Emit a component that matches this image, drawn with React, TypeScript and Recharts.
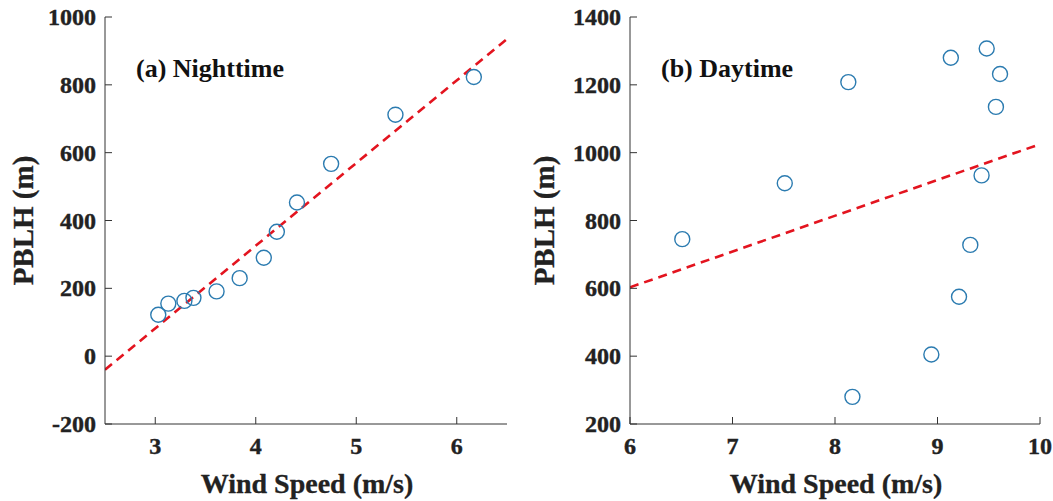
import { ScatterChart, Scatter, XAxis, YAxis, ReferenceLine } from "recharts";

// (a) Nighttime
const nightSpeed = [3.03, 3.13, 3.29, 3.38, 3.61, 3.84, 4.08, 4.21, 4.41, 4.75, 5.39, 6.17];
const nightPblh = [122, 155, 163, 172, 191, 230, 290, 367, 453, 567, 712, 823];
const nightFit = [
    { x: 2.5, y: -40 },
    { x: 6.5, y: 935 },
];
const nightXTicks = [3, 4, 5, 6];
const nightYTicks = [-200, 0, 200, 400, 600, 800, 1000];

// (b) Daytime
const daySpeed = [6.51, 7.51, 8.13, 8.17, 8.94, 9.13, 9.21, 9.32, 9.43, 9.48, 9.57, 9.61];
const dayPblh = [745, 910, 1208, 280, 405, 1280, 575, 728, 933, 1307, 1135, 1232];
const dayFit = [
    { x: 6, y: 603 },
    { x: 10, y: 1025 },
];
const dayXTicks = [6, 7, 8, 9, 10];
const dayYTicks = [200, 400, 600, 800, 1000, 1200, 1400];

const font = "'Liberation Serif', 'Times New Roman', serif";
const markerColor = "#2b7bb0";
const fitColor = "#e3141f";
const TICK_LEN = 7;

// reference text is a heavy, slightly blurred bold serif
const tickStyle = { fontFamily: font, fontWeight: 700, fontSize: 24, fill: "#222", stroke: "#222", strokeWidth: 0.4 };

const BottomTick = ({ x, y, payload }: any) => (
    <g>
        <line x1={x} y1={y} x2={x} y2={y - TICK_LEN} stroke="#333" strokeWidth={1} />
        <text x={x} y={y + 30} textAnchor="middle" style={tickStyle}>
            {payload.value}
        </text>
    </g>
);

const LeftTick = ({ x, y, payload }: any) => (
    <g>
        <line x1={x} y1={y} x2={x + TICK_LEN} y2={y} stroke="#333" strokeWidth={1} />
        <text x={x - 9} y={y + 8} textAnchor="end" style={tickStyle}>
            {payload.value}
        </text>
    </g>
);

const TopTick = ({ x, y }: any) => <line x1={x} y1={y} x2={x} y2={y + TICK_LEN} stroke="#333" strokeWidth={1} />;

const RightTick = ({ x, y }: any) => <line x1={x} y1={y} x2={x - TICK_LEN} y2={y} stroke="#333" strokeWidth={1} />;

const Ring = (props: any) => {
    const { cx, cy } = props;
    return <circle cx={cx} cy={cy} r={7.5} fill="none" stroke={markerColor} strokeWidth={1.4} />;
};

function Panel({
    title,
    speed,
    pblh,
    fit,
    xDomain,
    yDomain,
    xTicks,
    yTicks,
    width,
    yAxisWidth,
    yLabelX,
}: any) {
    const data = speed.map((s: number, i: number) => ({ speed: s, pblh: pblh[i] }));
    return (
        <div style={{ position: "relative", width, height: 501 }}>
            <ScatterChart width={width} height={501} margin={{ top: 17, right: 13, left: 0, bottom: 0 }}>
                <XAxis
                    xAxisId="b"
                    type="number"
                    dataKey="speed"
                    domain={xDomain}
                    ticks={xTicks}
                    height={77}
                    tickSize={0}
                    tickMargin={0}
                    tick={<BottomTick />}
                    axisLine={{ stroke: "#333" }}
                    allowDataOverflow
                    label={{
                        content: ({ viewBox }: any) => (
                            <text
                                x={viewBox.x + viewBox.width / 2 + 1}
                                y={493}
                                textAnchor="middle"
                                style={{ fontFamily: font, fontWeight: 700, fontSize: 28, fill: "#222", stroke: "#222", strokeWidth: 0.3 }}
                            >
                                Wind Speed (m/s)
                            </text>
                        ),
                    }}
                />
                <XAxis
                    xAxisId="t"
                    orientation="top"
                    type="number"
                    dataKey="speed"
                    domain={xDomain}
                    ticks={xTicks}
                    height={0}
                    tickSize={0}
                    tickMargin={0}
                    tick={<TopTick />}
                    axisLine={{ stroke: "#333" }}
                    allowDataOverflow
                />
                <YAxis
                    yAxisId="l"
                    type="number"
                    dataKey="pblh"
                    domain={yDomain}
                    ticks={yTicks}
                    width={yAxisWidth}
                    tickSize={0}
                    tickMargin={0}
                    tick={<LeftTick />}
                    axisLine={{ stroke: "#333" }}
                    allowDataOverflow
                    label={{
                        content: ({ viewBox }: any) => {
                            const cy = viewBox.y + viewBox.height / 2;
                            return (
                                <text
                                    x={yLabelX}
                                    y={cy}
                                    transform={`rotate(-90, ${yLabelX}, ${cy})`}
                                    textAnchor="middle"
                                    dominantBaseline="central"
                                    style={{ fontFamily: font, fontWeight: 700, fontSize: 29, fill: "#222", stroke: "#222", strokeWidth: 0.3 }}
                                >
                                    PBLH (m)
                                </text>
                            );
                        },
                    }}
                />
                <YAxis
                    yAxisId="r"
                    orientation="right"
                    type="number"
                    dataKey="pblh"
                    domain={yDomain}
                    ticks={yTicks}
                    width={0}
                    tickSize={0}
                    tickMargin={0}
                    tick={<RightTick />}
                    axisLine={{ stroke: "#333" }}
                    allowDataOverflow
                />
                <ReferenceLine
                    xAxisId="b"
                    yAxisId="l"
                    segment={fit}
                    stroke={fitColor}
                    strokeWidth={2.6}
                    strokeDasharray="9 6"
                    ifOverflow="hidden"
                />
                <Scatter
                    xAxisId="b"
                    yAxisId="l"
                    data={data}
                    shape={<Ring />}
                    isAnimationActive={false}
                />
            </ScatterChart>
            <div
                style={{
                    position: "absolute",
                    left: yAxisWidth + 31,
                    top: 53,
                    fontFamily: font,
                    fontWeight: 700,
                    fontSize: 26,
                    lineHeight: "32px",
                    color: "#111",
                    whiteSpace: "nowrap",
                }}
            >
                {title}
            </div>
        </div>
    );
}

export default function App() {
    return (
        <div style={{ position: "absolute", left: 0, top: 0, width: 1053, height: 501, display: "flex", background: "#fff" }}>
            <Panel
                title="(a) Nighttime"
                speed={nightSpeed}
                pblh={nightPblh}
                fit={nightFit}
                xDomain={[2.5, 6.5]}
                yDomain={[-200, 1000]}
                xTicks={nightXTicks}
                yTicks={nightYTicks}
                width={520}
                yAxisWidth={105}
                yLabelX={23}
            />
            <Panel
                title="(b) Daytime"
                speed={daySpeed}
                pblh={dayPblh}
                fit={dayFit}
                xDomain={[6, 10]}
                yDomain={[200, 1400]}
                xTicks={dayXTicks}
                yTicks={dayYTicks}
                width={533}
                yAxisWidth={110}
                yLabelX={24}
            />
        </div>
    );
}
